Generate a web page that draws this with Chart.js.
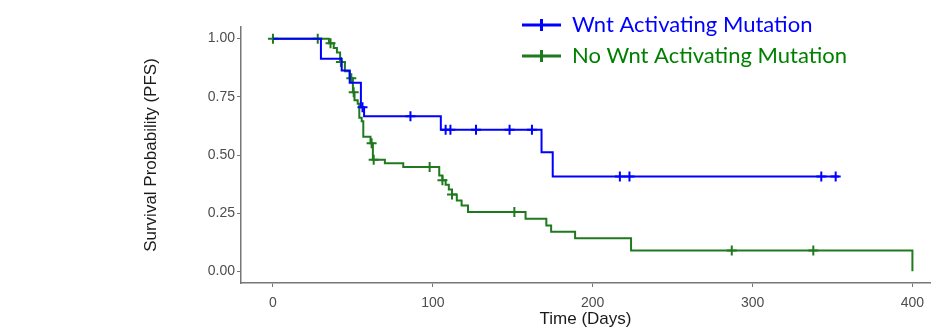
<!DOCTYPE html>
<html>
<head>
<meta charset="utf-8">
<title>PFS by Wnt status</title>
<script src="https://cdn.jsdelivr.net/npm/chart.js@4.4.1/dist/chart.umd.min.js"></script>
<style>
    html, body { margin: 0; padding: 0; background: #fff; overflow: hidden; }
    #wrap { position: relative; width: 937px; height: 336px; }
</style>
</head>
<body>
<div id="wrap"><canvas id="kmChart" width="937" height="336"></canvas></div>
<script>
// KM steps (time in days, survival after the event)
const wntTimes = [0, 30, 43, 48, 55, 57, 105, 168, 175, 354];
const wntSurv = [1, 0.914, 0.863, 0.81, 0.705, 0.667, 0.608, 0.512, 0.408, 0.408];
const wntCensor = [56, 86, 108, 111, 127, 148, 162, 217, 223, 343, 352];

const noWntTimes = [0, 35, 38, 40, 42, 45, 48, 50, 51, 53, 54, 55.5, 56.5, 61, 62.5, 70, 81.5,
    104, 106, 108, 110, 112, 115, 118, 122, 158, 171, 174, 189, 224, 400, 400];
const noWntSurv = [1, 0.98, 0.96, 0.94, 0.90, 0.86, 0.83, 0.77, 0.735, 0.72, 0.66, 0.645, 0.578, 0.55, 0.48, 0.465, 0.448,
    0.412, 0.392, 0.372, 0.352, 0.33, 0.305, 0.283, 0.255, 0.226, 0.197, 0.17, 0.142, 0.09, 0.09, 0];
const noWntCensor = [0, 28, 36, 42.5, 49, 50.5, 61.7, 63, 98, 106, 112, 151, 287, 338];

const xTicks = [0, 100, 200, 300, 400];
const yTicks = [0, 0.25, 0.5, 0.75, 1];

const seriesNames = ['Wnt Activating Mutation', 'No Wnt Activating Mutation'];
const blue = '#0000ff';
const green = '#1f7a1f';
const greenText = '#008000';

// value of the step curve at time t
function stepValue(times, surv, t) {
    let v = surv[0];
    for (let i = 0; i < times.length; i++) {
        if (times[i] <= t) v = surv[i];
    }
    return v;
}

function toPoints(times, surv) {
    return times.map((t, i) => ({ x: t, y: surv[i] }));
}

function censorPoints(times, surv, censors) {
    return censors.map(t => ({ x: t, y: stepValue(times, surv, t) }));
}

// legend on the top right, drawn after the chart
const legendPlugin = {
    id: 'kmLegend',
    afterDraw(chart) {
        const ctx = chart.ctx;
        const rows = [
            { label: seriesNames[0], line: blue, text: blue, y: 25 },
            { label: seriesNames[1], line: green, text: greenText, y: 56 }
        ];
        ctx.save();
        rows.forEach(r => {
            ctx.strokeStyle = r.line;
            ctx.lineWidth = 3;
            ctx.beginPath();
            ctx.moveTo(522, r.y);
            ctx.lineTo(561, r.y);
            ctx.moveTo(541.5, r.y - 6);
            ctx.lineTo(541.5, r.y + 6);
            ctx.stroke();
            ctx.fillStyle = r.text;
            ctx.font = '22px Lato, "Open Sans", sans-serif';
            ctx.textBaseline = 'middle';
            ctx.fillText(r.label, 572, r.y);
        });
        ctx.restore();
    }
};

function initializeKmChart() {
    const ctx = document.getElementById('kmChart').getContext('2d');
    const tickFont = { family: '"Liberation Sans", Arial, sans-serif', size: 14 };
    const xTitleFont = { family: '"Liberation Sans", Arial, sans-serif', size: 17 };
    const yTitleFont = { family: '"Liberation Sans", Arial, sans-serif', size: 17 };

    new Chart(ctx, {
        type: 'line',
        data: {
            datasets: [
                {
                    label: seriesNames[0],
                    data: toPoints(wntTimes, wntSurv),
                    borderColor: blue,
                    borderWidth: 2,
                    stepped: true,
                    pointRadius: 0,
                    fill: false
                },
                {
                    label: seriesNames[0] + ' censored',
                    type: 'scatter',
                    data: censorPoints(wntTimes, wntSurv, wntCensor),
                    pointStyle: 'cross',
                    pointRadius: 5,
                    borderColor: blue,
                    borderWidth: 2,
                    showLine: false
                },
                {
                    label: seriesNames[1],
                    data: toPoints(noWntTimes, noWntSurv),
                    borderColor: green,
                    borderWidth: 2,
                    stepped: true,
                    pointRadius: 0,
                    fill: false
                },
                {
                    label: seriesNames[1] + ' censored',
                    type: 'scatter',
                    data: censorPoints(noWntTimes, noWntSurv, noWntCensor),
                    pointStyle: 'cross',
                    pointRadius: 5,
                    borderColor: green,
                    borderWidth: 2,
                    showLine: false
                }
            ]
        },
        options: {
            responsive: false,
            animation: false,
            layout: { padding: { left: 140, top: 27, right: 0, bottom: 0 } },
            plugins: { legend: { display: false }, tooltip: { enabled: false } },
            scales: {
                x: {
                    type: 'linear',
                    min: -20,
                    max: 411,
                    afterBuildTicks: s => { s.ticks = xTicks.map(v => ({ value: v })); },
                    afterFit: s => { s.height = 53; },
                    grid: { drawOnChartArea: false, tickLength: 4, color: '#777', lineWidth: 1 },
                    border: { color: '#777', width: 1.5 },
                    ticks: { font: tickFont, color: '#4d4d4d', padding: 8, maxRotation: 0 },
                    title: { display: true, text: 'Time (Days)', font: xTitleFont, color: '#1a1a1a', padding: { top: 0, bottom: 6 } }
                },
                y: {
                    min: -0.05,
                    max: 1.05,
                    afterBuildTicks: s => { s.ticks = yTicks.map(v => ({ value: v })); },
                    afterFit: s => { s.width = 101; },
                    grid: { drawOnChartArea: false, tickLength: 4, color: '#777', lineWidth: 1 },
                    border: { color: '#777', width: 1.5 },
                    ticks: { font: tickFont, color: '#4d4d4d', padding: 2, callback: v => v.toFixed(2) },
                    title: { display: true, text: 'Survival Probability (PFS)', font: yTitleFont, color: '#1a1a1a', padding: { top: 1, bottom: 0 } }
                }
            }
        },
        plugins: [legendPlugin]
    });
}

document.addEventListener('DOMContentLoaded', () => {
    initializeKmChart();
});
</script>
</body>
</html>
